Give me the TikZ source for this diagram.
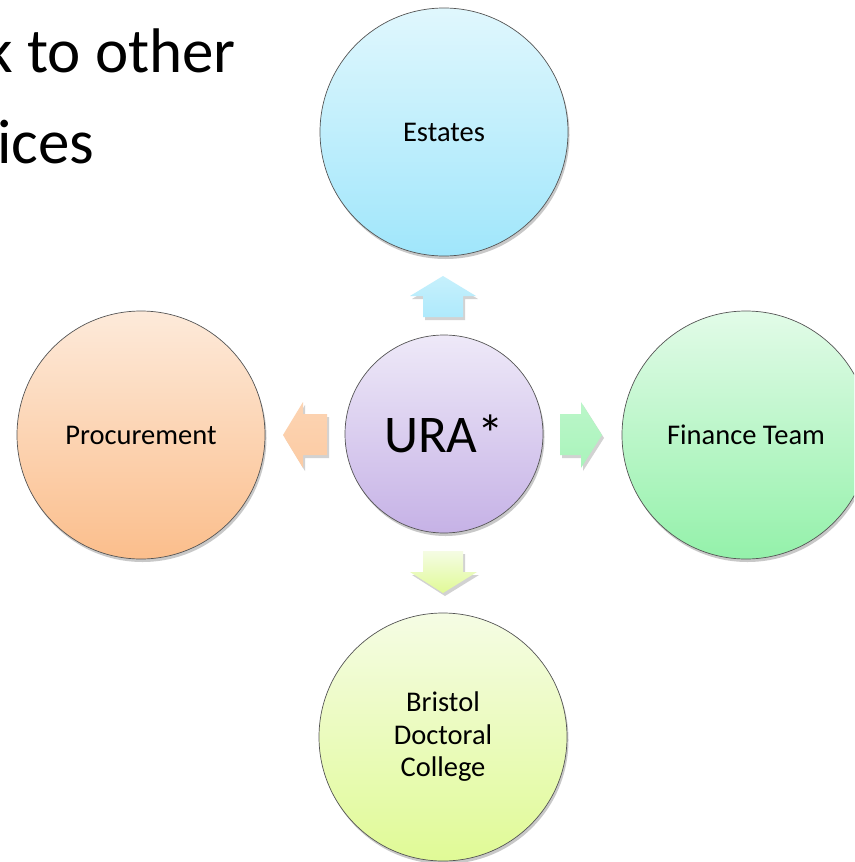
\documentclass[tikz,border=0pt]{standalone}
\usepackage{fontspec}
\setmainfont{Carlito}
\usetikzlibrary{shadows}
\definecolor{estT}{RGB}{224,247,253}
\definecolor{estB}{RGB}{160,230,251}
\definecolor{finT}{RGB}{226,251,232}
\definecolor{finB}{RGB}{148,241,170}
\definecolor{proT}{RGB}{253,234,218}
\definecolor{proB}{RGB}{251,190,140}
\definecolor{bdcT}{RGB}{245,252,228}
\definecolor{bdcB}{RGB}{224,250,150}
\definecolor{uraT}{RGB}{238,233,248}
\definecolor{uraB}{RGB}{198,178,230}
\definecolor{rim}{RGB}{85,85,85}
\tikzset{
  bubble/.style={circle, inner sep=0pt, minimum size=248pt, draw=rim, line width=0.7pt,
    font=\fontsize{28.5}{32.5}\selectfont, align=center,
    drop shadow={shadow xshift=1.5pt, shadow yshift=-3pt, opacity=0.3, fill=black!70}},
  hub/.style={bubble, minimum size=198pt, font=\fontsize{53}{60}\selectfont},
  blockarrow/.style={draw=none,
    drop shadow={shadow xshift=2pt, shadow yshift=-3pt, opacity=0.25, fill=black!70}},
  bigtext/.style={inner sep=0pt, font=\fontsize{63}{91}\selectfont}
}
\begin{document}
\begin{tikzpicture}[x=1pt,y=-1pt]
\useasboundingbox (0,0) rectangle (854,862);
\clip (0,0) rectangle (854,862);
\fill[white] (0,0) rectangle (854,862);
% cut-off title text
\node[bigtext, anchor=base east] (t1) at (236,72) {k to other};
\node[bigtext, anchor=base west] (t2) at (-3,163) {ices};
% circles
\node[bubble, top color=estT, bottom color=estB] (est) at (444,132) {Estates};
\node[bubble, top color=proT, bottom color=proB] (proc) at (141,435) {Procurement};
\node[bubble, top color=finT, bottom color=finB] (fin) at (746,435) {Finance Team};
\node[bubble, top color=bdcT, bottom color=bdcB] (bdc) at (443,737) {Bristol\\Doctoral\\College};
\node[hub, top color=uraT, bottom color=uraB] (ura) at (444,434) {URA*};
% block arrows
\path[blockarrow, top color=estT!60!estB, bottom color=estB!85!white]
  (423,317) -- (423,296) -- (410,296) -- (443,276) -- (476,296) -- (463,296) -- (463,317) -- cycle;
\path[blockarrow, top color=proT!50!proB, bottom color=proB!80!white]
  (327,414) -- (303,414) -- (303,402) -- (283,435) -- (303,468) -- (303,455) -- (327,455) -- cycle;
\path[blockarrow, top color=finT!50!finB, bottom color=finB!80!white]
  (560,414) -- (581,414) -- (581,402) -- (602,435) -- (581,468) -- (581,455) -- (560,455) -- cycle;
\path[blockarrow, top color=bdcT, bottom color=bdcB]
  (423,551) -- (463,551) -- (463,572) -- (477,572) -- (443,593) -- (410,572) -- (423,572) -- cycle;
\end{tikzpicture}
\end{document}
